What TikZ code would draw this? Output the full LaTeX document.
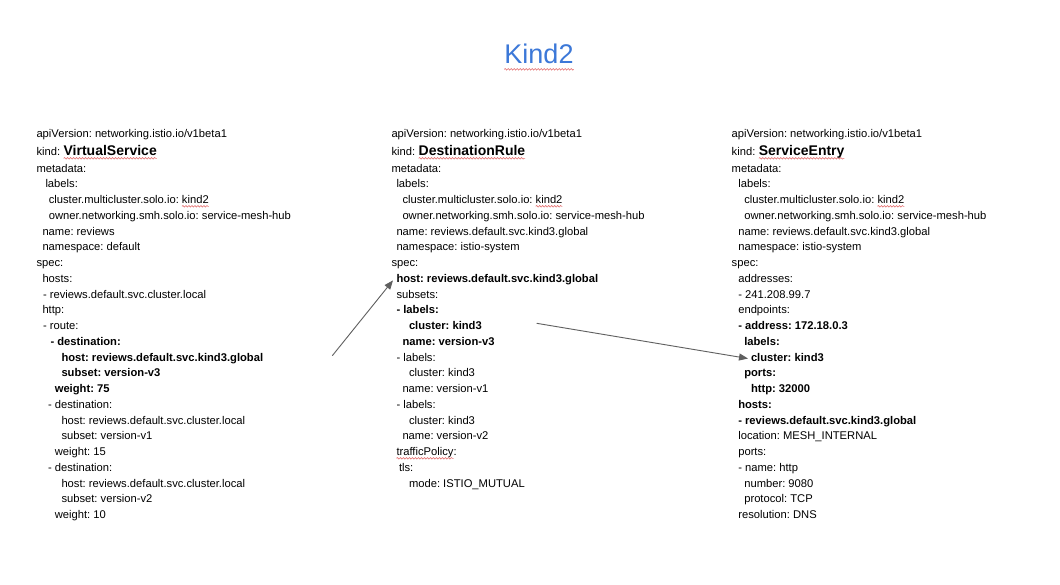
\documentclass[tikz,border=0pt]{standalone}
\usepackage{fontspec}
\setmainfont{Liberation Sans}
\usetikzlibrary{arrows.meta,decorations.pathmorphing}
\definecolor{titleblue}{HTML}{3C78D8}
\definecolor{arrowgray}{HTML}{5F5F5F}
\definecolor{squig}{HTML}{E57373}
\frenchspacing
\newcommand{\yamlline}[5][]{\node[yl,#1] (#2) at (#3,{172+(#4-2)*15.75}) {#5};}
\tikzset{
  yl/.style={anchor=base west, inner sep=0pt, outer sep=0pt, font=\fontsize{11.2}{13}\selectfont, text=black},
  bl/.style={font=\fontsize{11.2}{13}\selectfont\bfseries},
  kindw/.style={yl, font=\fontsize{14}{16}\selectfont\bfseries},
  squiggle/.style={draw=squig, line width=0.6pt, decorate, decoration={snake, amplitude=0.8pt, segment length=3pt}},
  conn/.style={draw=arrowgray, line width=0.9pt, -{Triangle[length=9pt,width=7pt]}},
}
\begin{document}
\begin{tikzpicture}[x=1pt,y=-1pt]
\useasboundingbox (0,0) rectangle (1060,584);
\fill[white] (0,0) rectangle (1060,584);
% title
\node[font=\fontsize{27}{32}\selectfont, text=titleblue, anchor=base, inner sep=0pt] (title) at (539,63.3) {Kind2};
\draw[squiggle] ([yshift=-6pt]title.base west) -- ([yshift=-6pt]title.base east);

% ---------- column 1 : VirtualService ----------
\node[yl] (a0) at (36.5,137) {apiVersion: networking.istio.io/v1beta1};
\node[yl] (a1) at (36.5,155.5) {kind:};
\node[kindw] (a1w) at ([xshift=3.5pt]a1.base east) {VirtualService};
\yamlline{a2}{36.5}{2}{metadata:}
\yamlline{a3}{45.5}{3}{labels:}
\yamlline{a4}{48.8}{4}{cluster.multicluster.solo.io:}
\node[yl] (a4k) at ([xshift=3.1pt]a4.base east) {kind2};
\yamlline{a5}{48.8}{5}{owner.networking.smh.solo.io: service-mesh-hub}
\yamlline{a6}{42.5}{6}{name: reviews}
\yamlline{a7}{42.5}{7}{namespace: default}
\yamlline{a8}{36.5}{8}{spec:}
\yamlline{a9}{42.5}{9}{hosts:}
\yamlline{a10}{43}{10}{- reviews.default.svc.cluster.local}
\yamlline{a11}{42.5}{11}{http:}
\yamlline{a12}{43}{12}{- route:}
\yamlline[bl]{a13}{50.5}{13}{- destination:}
\yamlline[bl]{a14}{61.5}{14}{host: reviews.default.svc.kind3.global}
\yamlline[bl]{a15}{61.5}{15}{subset: version-v3}
\yamlline[bl]{a16}{54.8}{16}{weight: 75}
\yamlline{a17}{48.1}{17}{- destination:}
\yamlline{a18}{61.5}{18}{host: reviews.default.svc.cluster.local}
\yamlline{a19}{61.5}{19}{subset: version-v1}
\yamlline{a20}{54.8}{20}{weight: 15}
\yamlline{a21}{48.1}{21}{- destination:}
\yamlline{a22}{61.5}{22}{host: reviews.default.svc.cluster.local}
\yamlline{a23}{61.5}{23}{subset: version-v2}
\yamlline{a24}{54.8}{24}{weight: 10}

% ---------- column 2 : DestinationRule ----------
\node[yl] (b0) at (391.5,137) {apiVersion: networking.istio.io/v1beta1};
\node[yl] (b1) at (391.5,155.5) {kind:};
\node[kindw] (b1w) at ([xshift=3.5pt]b1.base east) {DestinationRule};
\yamlline{b2}{391.5}{2}{metadata:}
\yamlline{b3}{396.5}{3}{labels:}
\yamlline{b4}{402.5}{4}{cluster.multicluster.solo.io:}
\node[yl] (b4k) at ([xshift=3.1pt]b4.base east) {kind2};
\yamlline{b5}{402.5}{5}{owner.networking.smh.solo.io: service-mesh-hub}
\yamlline{b6}{396.5}{6}{name: reviews.default.svc.kind3.global}
\yamlline{b7}{396.5}{7}{namespace: istio-system}
\yamlline{b8}{391.5}{8}{spec:}
\yamlline[bl]{b9}{396.5}{9}{host: reviews.default.svc.kind3.global}
\yamlline{b10}{396.5}{10}{subsets:}
\yamlline[bl]{b11}{396.5}{11}{- labels:}
\yamlline[bl]{b12}{409}{12}{cluster: kind3}
\yamlline[bl]{b13}{402.5}{13}{name: version-v3}
\yamlline{b14}{396.5}{14}{- labels:}
\yamlline{b15}{409}{15}{cluster: kind3}
\yamlline{b16}{402.5}{16}{name: version-v1}
\yamlline{b17}{396.5}{17}{- labels:}
\yamlline{b18}{409}{18}{cluster: kind3}
\yamlline{b19}{402.5}{19}{name: version-v2}
\yamlline{b20}{396.5}{20}{trafficPolicy}
\node[yl] (b20c) at (b20.base east) {:};
\yamlline{b21}{399}{21}{tls:}
\yamlline{b22}{409}{22}{mode: ISTIO\_MUTUAL}

% ---------- column 3 : ServiceEntry ----------
\node[yl] (c0) at (731.7,137) {apiVersion: networking.istio.io/v1beta1};
\node[yl] (c1) at (731.7,155.5) {kind:};
\node[kindw] (c1w) at ([xshift=3.5pt]c1.base east) {ServiceEntry};
\yamlline{c2}{731.7}{2}{metadata:}
\yamlline{c3}{738.3}{3}{labels:}
\yamlline{c4}{744.3}{4}{cluster.multicluster.solo.io:}
\node[yl] (c4k) at ([xshift=3.1pt]c4.base east) {kind2};
\yamlline{c5}{744.3}{5}{owner.networking.smh.solo.io: service-mesh-hub}
\yamlline{c6}{738.3}{6}{name: reviews.default.svc.kind3.global}
\yamlline{c7}{738.3}{7}{namespace: istio-system}
\yamlline{c8}{731.7}{8}{spec:}
\yamlline{c9}{738.3}{9}{addresses:}
\yamlline{c10}{738.3}{10}{- 241.208.99.7}
\yamlline{c11}{738.3}{11}{endpoints:}
\yamlline[bl]{c12}{738.3}{12}{- address: 172.18.0.3}
\yamlline[bl]{c13}{744.3}{13}{labels:}
\yamlline[bl]{c14}{751}{14}{cluster: kind3}
\yamlline[bl]{c15}{744.3}{15}{ports:}
\yamlline[bl]{c16}{751}{16}{http: 32000}
\yamlline[bl]{c17}{738.3}{17}{hosts:}
\yamlline[bl]{c18}{738.3}{18}{- reviews.default.svc.kind3.global}
\yamlline{c19}{738.3}{19}{location: MESH\_INTERNAL}
\yamlline{c20}{738.3}{20}{ports:}
\yamlline{c21}{738.3}{21}{- name: http}
\yamlline{c22}{744.3}{22}{number: 9080}
\yamlline{c23}{744.3}{23}{protocol: TCP}
\yamlline{c24}{738.3}{24}{resolution: DNS}

% spell-check squiggles
\foreach \w in {a1w,b1w,c1w,a4k,b4k,c4k,b20}{
  \draw[squiggle] ([yshift=-2.8pt]\w.base west) -- ([yshift=-2.8pt]\w.base east);
}

% connectors
\coordinate (s1) at (332.3,355.7);
\draw[conn] (s1) -- ([xshift=-3.5pt,yshift=-1pt]b9.west);
\coordinate (s2) at (536.7,323.3);
\draw[conn] (s2) -- ([xshift=-3pt,yshift=-1.5pt]c14.west);
\end{tikzpicture}
\end{document}
